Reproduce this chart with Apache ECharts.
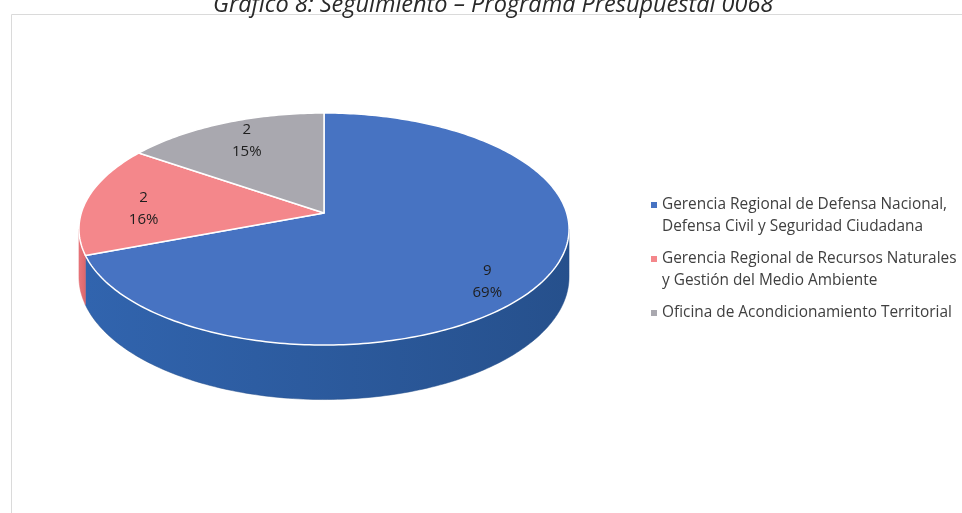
<!DOCTYPE html>
<html>
<head>
<meta charset="utf-8">
<script src="https://cdn.jsdelivr.net/npm/echarts@6/dist/echarts.min.js"></script>
<style>
  html, body { margin: 0; padding: 0; background: #fff; }
  #chart { width: 962px; height: 513px; }
</style>
</head>
<body>
<div id="chart"></div>
<script>
// data
var categories = [
  'Gerencia Regional de Defensa Nacional,\nDefensa Civil y Seguridad Ciudadana',
  'Gerencia Regional de Recursos Naturales\ny Gestión del Medio Ambiente',
  'Oficina de Acondicionamiento Territorial'
];
var values = [9, 2, 2];
var percents = [69, 16, 15];

var topColors = ['#4773c2', '#f4878b', '#a9a8af'];
var sideColors = [['#3164ae', '#26508c'], ['#ea777c', '#dc676c'], ['#96959c', '#87868d']];

// fake 3d pie geometry (pixels)
var CX = 324, CY = 213, RX = 242.7, RY = 113.8, PERSP = 0.138, DEPTH = 47;

var total = 0;
for (var i = 0; i < values.length; i++) total += values[i];

function proj(deg, r, drop) {
  var rad = deg * Math.PI / 180;
  var u = r * Math.sin(rad), v = r * Math.cos(rad);
  var s = 1 / (1 + PERSP * v);
  return [CX + RX * u * s, CY - RY * v * s + drop * s];
}

function renderSlice(params, api) {
  var idx = params.seriesIndex;
  var before = 0;
  for (var j = 0; j < idx; j++) before += values[j];
  var a0 = before / total * 360;
  var a1 = (before + values[idx]) / total * 360;
  var children = [];

  // front wall, only the part facing us
  var limit = Math.acos(-PERSP) * 180 / Math.PI;
  var s0 = Math.max(a0, limit), s1 = Math.min(a1, 360 - limit);
  if (s1 > s0) {
    var pts = [];
    for (var a = s0; a < s1; a += 1) pts.push(proj(a, 1, 0));
    pts.push(proj(s1, 1, 0));
    for (var b = s1; b > s0; b -= 1) pts.push(proj(b, 1, DEPTH));
    pts.push(proj(s0, 1, DEPTH));
    children.push({
      type: 'polygon',
      shape: { points: pts },
      style: {
        fill: new echarts.graphic.LinearGradient(0, 0, 1, 0, [
          { offset: 0, color: sideColors[idx][0] },
          { offset: 1, color: sideColors[idx][1] }
        ]),
        stroke: sideColors[idx][1],
        lineWidth: 0.5
      },
      z2: 1
    });
  }

  // top face
  var top = [proj(0, 0, 0)];
  for (var c = a0; c < a1; c += 1) top.push(proj(c, 1, 0));
  top.push(proj(a1, 1, 0));
  children.push({
    type: 'polygon',
    shape: { points: top },
    style: { fill: topColors[idx], stroke: '#ffffff', lineWidth: 1.5, lineJoin: 'round' },
    z2: 10
  });

  // label
  var mid = (a0 + a1) / 2 * Math.PI / 180;
  var sc = 1 / (1 + PERSP * 0.9 * Math.cos(mid));
  children.push({
    type: 'text',
    x: CX + RX * 0.76 * Math.sin(mid) * sc,
    y: CY - RY * 0.88 * Math.cos(mid) * sc + 8,
    style: {
      text: values[idx] + '\n' + percents[idx] + '%',
      align: 'center',
      verticalAlign: 'middle',
      fill: '#1e1e1e',
      fontFamily: 'Open Sans',
      fontSize: 15,
      lineHeight: 22
    },
    z2: 20
  });

  return { type: 'group', children: children };
}

var series = [];
for (var k = 0; k < categories.length; k++) {
  series.push({
    name: categories[k],
    type: 'custom',
    coordinateSystem: 'none',
    itemStyle: { color: topColors[k] },
    renderItem: renderSlice,
    data: [[values[k]]]
  });
}

var chart = echarts.init(document.getElementById('chart'));
chart.setOption({
  animation: false,
  backgroundColor: '#ffffff',
  title: {
    text: 'Gráfico 8: Seguimiento – Programa Presupuestal 0068',
    left: 213,
    top: -6,
    padding: 0,
    textStyle: {
      fontFamily: 'Open Sans',
      fontStyle: 'italic',
      fontWeight: 'normal',
      fontSize: 23.5,
      color: '#2a2a2a'
    }
  },
  graphic: [{
    type: 'rect',
    shape: { x: 11.5, y: 14.5, width: 980, height: 520 },
    style: { fill: 'none', stroke: '#dadada', lineWidth: 1 },
    silent: true
  }],
  legend: {
    orient: 'vertical',
    left: 651,
    top: 172,
    padding: 0,
    itemGap: -12,
    itemWidth: 6,
    itemHeight: 6,
    icon: 'rect',
    selectedMode: false,
    data: categories,
    formatter: function (name) {
      var lines = name.split('\n');
      while (lines.length < 2) lines.push(' ');
      return ' \n' + lines.join('\n');
    },
    textStyle: {
      fontFamily: 'Open Sans',
      fontSize: 15.4,
      lineHeight: 22,
      color: '#404040'
    }
  },
  series: series
});
</script>
</body>
</html>
